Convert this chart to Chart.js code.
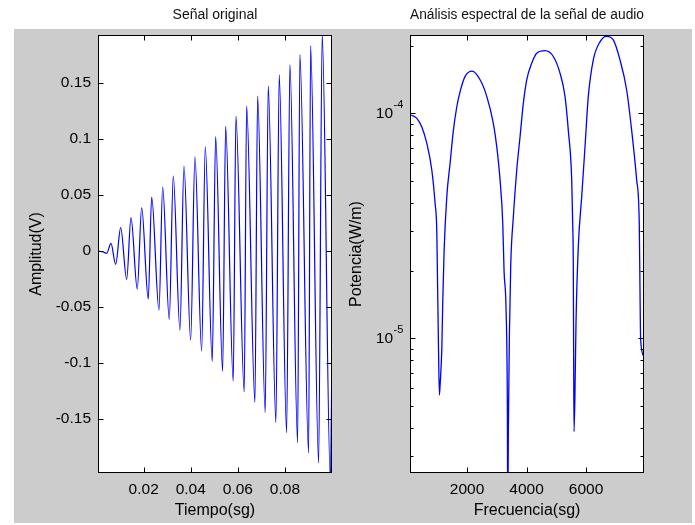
<!DOCTYPE html>
<html lang="es">
<head>
<meta charset="utf-8">
<title>Señal original / Análisis espectral</title>
<script src="https://cdn.jsdelivr.net/npm/chart.js@4"></script>
<style>
    body { margin: 0; background: #ffffff; }
    #figure { position: relative; width: 695px; height: 525px; overflow: hidden; }
    #figure .backdrop { position: absolute; left: 14px; top: 29px; width: 678px; height: 494px; background: #cccccc; }
    #signalChart { position: absolute; left: 0; top: 0; }
    #spectrumChart { position: absolute; left: 330px; top: 0; }
</style>
</head>
<body>
<div id="figure">
    <div class="backdrop"></div>
    <canvas id="signalChart" width="345" height="525"></canvas>
    <canvas id="spectrumChart" width="365" height="525"></canvas>
</div>
<script>
// --- Data ---

// Left panel: signal in time (peaks and troughs of each cycle)
const timeValues = [0.0006, 0.00284, 0.00429, 0.00611, 0.00811, 0.01023, 0.01278, 0.01461, 0.01728, 0.01915,
    0.02195, 0.0234, 0.0265, 0.02807, 0.03087, 0.03257, 0.03541, 0.03711, 0.03996, 0.04178,
    0.04463, 0.04616, 0.04913, 0.05057, 0.05354, 0.05482, 0.05804, 0.05919, 0.06271, 0.06373,
    0.06726, 0.0684, 0.07163, 0.07291, 0.07617, 0.07758, 0.08072, 0.08212, 0.08539, 0.08636,
    0.09006, 0.09091, 0.09431, 0.09583, 0.09932, 0.09995];
const ampValues = [0, -0.001, -0.0022, 0.0067, -0.012, 0.0207, -0.0254, 0.0296, -0.034, 0.0386,
    -0.043, 0.048, -0.0528, 0.057, -0.061, 0.0668, -0.0707, 0.0757, -0.0796, 0.0838,
    -0.0894, 0.093, -0.0984, 0.102, -0.1073, 0.111, -0.116, 0.12, -0.1257, 0.129,
    -0.135, 0.138, -0.144, 0.147, -0.153, 0.157, -0.162, 0.166, -0.171, 0.175,
    -0.18, 0.183, -0.189, 0.193, -0.205, -0.1];
const timeTicks = [0.02, 0.04, 0.06, 0.08];
const timeTickLabels = ['0.02', '0.04', '0.06', '0.08'];
const ampTicks = [-0.15, -0.1, -0.05, 0, 0.05, 0.1, 0.15];
const ampTickLabels = ['-0.15', '-0.1', '-0.05', '0', '0.05', '0.1', '0.15'];

// Right panel: power spectrum
const freqValues = [118, 309, 477, 645, 813, 924, 981, 1002, 1035, 1069,
    1092, 1149, 1183, 1227, 1318, 1428, 1539, 1654, 1765, 1933,
    2168, 2437, 2662, 2884, 2998, 3109, 3200, 3243, 3311, 3354,
    3368, 3388, 3422, 3469, 3556, 3670, 3781, 3892, 4006, 4174,
    4342, 4621, 4900, 5125, 5293, 5404, 5519, 5552, 5572, 5582,
    5596, 5629, 5663, 5741, 5855, 5966, 6077, 6245, 6470, 6695,
    6917, 7142, 7367, 7535, 7703, 7791, 7814, 7838, 7950];
const powerValues = [9.83e-5, 9.5e-5, 8.7e-5, 7.36e-5, 5.6e-5, 3.98e-5, 3.0e-5, 1.95e-5, 9.8e-6, 5.6e-6,
    6.2e-6, 8.9e-6, 1.48e-5, 2.45e-5, 4.27e-5, 6.0e-5, 8.4e-5, 1.07e-4, 1.25e-4, 1.46e-4,
    1.54e-4, 1.41e-4, 1.19e-4, 9.0e-5, 7.1e-5, 5.06e-5, 3.24e-5, 2.0e-5, 1.34e-5, 5.1e-6,
    1.5e-6, 3.9e-6, 1.02e-5, 2.14e-5, 3.47e-5, 5.6e-5, 7.87e-5, 1.11e-4, 1.41e-4, 1.67e-4,
    1.85e-4, 1.9e-4, 1.79e-4, 1.51e-4, 1.19e-4, 8.4e-5, 5.06e-5, 3.24e-5, 2.14e-5, 9.8e-6,
    3.85e-6, 5.75e-6, 1.17e-5, 2.57e-5, 4.27e-5, 7.1e-5, 1.19e-4, 1.73e-4, 2.08e-4, 2.2e-4,
    2.12e-4, 1.73e-4, 1.27e-4, 8.4e-5, 5.06e-5, 3.24e-5, 1.7e-5, 9.8e-6, 8.3e-6];
const freqTicks = [2000, 4000, 6000];
const freqTickLabels = ['2000', '4000', '6000'];
const powerTicks = [1e-5, 1e-4];
const powerTickLabels = ['10', '10'];
const powerTickExponents = ['-5', '-4'];
const powerMinorTicks = [3e-6, 4e-6, 5e-6, 6e-6, 7e-6, 8e-6, 9e-6,
    2e-5, 3e-5, 4e-5, 5e-5, 6e-5, 7e-5, 8e-5, 9e-5, 2e-4];

document.addEventListener('DOMContentLoaded', () => {

    Chart.defaults.font.family = '"Liberation Sans", Arial, sans-serif';
    Chart.defaults.color = '#000000';

    // --- MATLAB-like axes box: white plot area, black frame, ticks pointing inwards ---
    const matlabFrame = {
        id: 'matlabFrame',
        beforeDraw(chart) {
            const { ctx, chartArea: a } = chart;
            ctx.save();
            ctx.fillStyle = '#ffffff';
            ctx.fillRect(a.left, a.top, a.right - a.left, a.bottom - a.top);
            ctx.restore();
        },
        afterDraw(chart, args, opts) {
            const { ctx, chartArea: a, scales } = chart;
            const l = a.left + 0.5, r = a.right - 0.5, t = a.top + 0.5, b = a.bottom - 0.5;
            ctx.save();
            ctx.strokeStyle = '#000000';
            ctx.lineWidth = 1;
            ctx.beginPath();
            opts.xTicks.forEach(v => {
                const px = Math.round(scales.x.getPixelForValue(v)) + 0.5;
                ctx.moveTo(px, b); ctx.lineTo(px, b - 5);
                ctx.moveTo(px, t); ctx.lineTo(px, t + 5);
            });
            const yTick = (v, len) => {
                const py = Math.round(scales.y.getPixelForValue(v)) + 0.5;
                ctx.moveTo(l, py); ctx.lineTo(l + len, py);
                ctx.moveTo(r, py); ctx.lineTo(r - len, py);
            };
            opts.yTicks.forEach(v => yTick(v, 5));
            (opts.yMinor || []).forEach(v => yTick(v, 3));
            ctx.stroke();
            ctx.strokeRect(l, t, r - l, b - t);

            // exponents of the log axis labels (10 followed by a raised power)
            if (opts.yExponents) {
                ctx.fillStyle = '#000000';
                ctx.font = '11px "Liberation Sans", Arial, sans-serif';
                ctx.textAlign = 'left';
                ctx.textBaseline = 'middle';
                opts.yTicks.forEach((v, i) => {
                    const py = scales.y.getPixelForValue(v);
                    ctx.fillText(opts.yExponents[i], a.left - 16.5, py - 8);
                });
            }
            ctx.restore();
        }
    };

    const fixedTicks = (values) => (scale) => {
        scale.ticks = values.map(v => ({ value: v }));
    };
    const labelFor = (values, labels) => (value) => {
        const i = values.indexOf(value);
        return i >= 0 ? labels[i] : '';
    };

    const tickFont = { size: 15.5 };
    const axisTitleFont = { size: 16 };
    const plainGrid = { display: false, drawTicks: false };

    // --- Left: Señal original ---
    new Chart(document.getElementById('signalChart'), {
        type: 'line',
        data: {
            datasets: [{
                data: timeValues.map((t, i) => ({ x: t, y: ampValues[i] })),
                borderColor: '#0000ff',
                borderWidth: 1.2,
                pointRadius: 0,
                cubicInterpolationMode: 'monotone',
                fill: false
            }]
        },
        options: {
            responsive: false,
            animation: false,
            layout: { padding: { left: 0, right: 13, top: 0, bottom: 2 } },
            plugins: {
                legend: { display: false },
                tooltip: { enabled: false },
                title: {
                    display: true,
                    text: 'Señal original',
                    fullSize: false,
                    font: { size: 14, weight: 'normal' },
                    color: '#111111',
                    padding: { top: 6.6, bottom: 11.6 }
                },
                matlabFrame: { xTicks: timeTicks, yTicks: ampTicks }
            },
            scales: {
                x: {
                    type: 'linear',
                    min: 0.0006,
                    max: 0.1,
                    grid: plainGrid,
                    border: { display: false },
                    afterBuildTicks: fixedTicks(timeTicks),
                    afterFit: (s) => { s.height = 50; },
                    ticks: {
                        font: tickFont,
                        padding: 7,
                        maxRotation: 0,
                        autoSkip: false,
                        callback: labelFor(timeTicks, timeTickLabels)
                    },
                    title: { display: true, text: 'Tiempo(sg)', font: axisTitleFont, padding: { top: 0, bottom: 2.7 } }
                },
                y: {
                    type: 'linear',
                    min: -0.198,
                    max: 0.1925,
                    grid: plainGrid,
                    border: { display: false },
                    afterBuildTicks: fixedTicks(ampTicks),
                    afterFit: (s) => { s.width = 98; },
                    ticks: {
                        font: tickFont,
                        padding: 7,
                        autoSkip: false,
                        callback: labelFor(ampTicks, ampTickLabels)
                    },
                    title: { display: true, text: 'Amplitud(V)', font: axisTitleFont, padding: { top: 27.4, bottom: 0 } }
                }
            }
        },
        plugins: [matlabFrame]
    });

    // --- Right: Análisis espectral ---
    new Chart(document.getElementById('spectrumChart'), {
        type: 'line',
        data: {
            datasets: [{
                data: freqValues.map((f, i) => ({ x: f, y: powerValues[i] })),
                borderColor: '#0000ff',
                borderWidth: 1.3,
                pointRadius: 0,
                cubicInterpolationMode: 'monotone',
                fill: false
            }]
        },
        options: {
            responsive: false,
            animation: false,
            layout: { padding: { left: 0, right: 51, top: 0, bottom: 2 } },
            plugins: {
                legend: { display: false },
                tooltip: { enabled: false },
                title: {
                    display: true,
                    text: 'Análisis espectral de la señal de audio',
                    fullSize: false,
                    font: { size: 14, weight: 'normal' },
                    color: '#111111',
                    padding: { top: 6.6, bottom: 11.6 }
                },
                matlabFrame: { xTicks: freqTicks, yTicks: powerTicks, yMinor: powerMinorTicks, yExponents: powerTickExponents }
            },
            scales: {
                x: {
                    type: 'linear',
                    min: 80,
                    max: 7950,
                    grid: plainGrid,
                    border: { display: false },
                    afterBuildTicks: fixedTicks(freqTicks),
                    afterFit: (s) => { s.height = 50; },
                    ticks: {
                        font: tickFont,
                        padding: 7,
                        maxRotation: 0,
                        autoSkip: false,
                        callback: labelFor(freqTicks, freqTickLabels)
                    },
                    title: { display: true, text: 'Frecuencia(sg)', font: axisTitleFont, padding: { top: 0, bottom: 2.7 } }
                },
                y: {
                    type: 'logarithmic',
                    min: 2.52e-6,
                    max: 2.23e-4,
                    grid: plainGrid,
                    border: { display: false },
                    afterBuildTicks: fixedTicks(powerTicks),
                    afterFit: (s) => { s.width = 80; },
                    ticks: {
                        font: tickFont,
                        padding: 17,
                        autoSkip: false,
                        callback: labelFor(powerTicks, powerTickLabels)
                    },
                    title: { display: true, text: 'Potencia(W/m)', font: axisTitleFont, padding: { top: 17.4, bottom: 0 } }
                }
            }
        },
        plugins: [matlabFrame]
    });
});
</script>
</body>
</html>
